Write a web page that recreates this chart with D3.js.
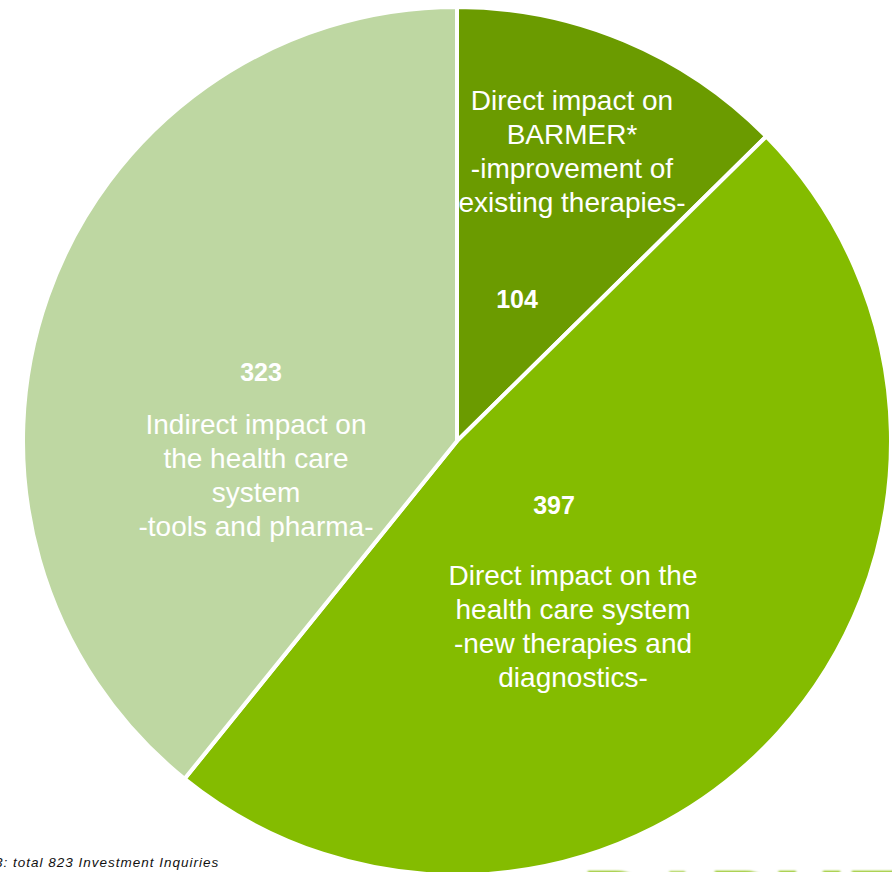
<!DOCTYPE html>
<html>
<head>
<meta charset="utf-8">
<script src="https://cdn.jsdelivr.net/npm/d3@7"></script>
<style>
  html, body { margin: 0; padding: 0; background: #ffffff; overflow: hidden; }
  svg { display: block; }
</style>
</head>
<body>
<svg id="chart" width="892" height="872"></svg>
<script>
// Investment inquiries by impact category
const categories = [
  "Direct impact on BARMER",
  "Direct impact on the health care system",
  "Indirect impact on the health care system"
];
const values = [104, 397, 323];
const colors = ["#6b9b00", "#84bc00", "#bed7a2"];

// Multi-line slice descriptions
const descriptions = [
  ["Direct impact on", "BARMER*", "-improvement of", "existing therapies-"],
  ["Direct impact on the", "health care system", "-new therapies and", "diagnostics-"],
  ["Indirect impact on", "the health care", "system", "-tools and pharma-"]
];

// Label anchors: value label centre and description block start
const valuePos = [[517, 299], [554, 505], [261, 372]];
const descPos = [[572, 100], [573, 575], [256, 424]];

const footnote = "3: total 823 Investment Inquiries";
const logoText = "BARMER";

const svg = d3.select("#chart");
const cx = 457, cy = 441, radius = 434;

const defs = svg.append("defs");
defs.append("filter").attr("id", "soft")
  .append("feGaussianBlur").attr("stdDeviation", 0.9);

const data = categories.map((c, i) => ({ name: c, value: values[i], color: colors[i], desc: descriptions[i], vp: valuePos[i], dp: descPos[i] }));

const pie = d3.pie().sort(null).value(d => d.value).startAngle(0).endAngle(2 * Math.PI);
const arc = d3.arc().innerRadius(0).outerRadius(radius);

const g = svg.append("g").attr("transform", `translate(${cx},${cy})`);
g.selectAll("path.slice")
  .data(pie(data))
  .join("path")
  .attr("class", "slice")
  .attr("d", arc)
  .attr("fill", d => d.data.color)
  .attr("stroke", "#ffffff")
  .attr("stroke-width", 4)
  .attr("stroke-linejoin", "miter");

// Value labels
svg.selectAll("text.value")
  .data(data)
  .join("text")
  .attr("class", "value")
  .attr("x", d => d.vp[0])
  .attr("y", d => d.vp[1])
  .attr("dy", "0.36em")
  .attr("text-anchor", "middle")
  .attr("font-family", "Liberation Sans, Arial, sans-serif")
  .attr("font-weight", "bold")
  .attr("font-size", 25)
  .attr("fill", "#ffffff")
  .text(d => d.value);

// Description labels
const lineH = 34;
data.forEach(d => {
  const t = svg.append("text")
    .attr("text-anchor", "middle")
    .attr("font-family", "Liberation Sans, Arial, sans-serif")
    .attr("font-size", 28)
    .attr("fill", "#ffffff");
  d.desc.forEach((line, j) => {
    t.append("tspan")
      .attr("x", d.dp[0])
      .attr("y", d.dp[1] + j * lineH)
      .attr("dy", "0.36em")
      .text(line);
  });
});

// Footnote
svg.append("text")
  .attr("x", -5)
  .attr("y", 867)
  .attr("font-family", "Liberation Sans, Arial, sans-serif")
  .attr("font-style", "italic")
  .attr("font-size", 13.5)
  .attr("letter-spacing", 1)
  .attr("fill", "#111111")
  .text(footnote);

// Brand wordmark along the bottom edge
svg.append("text")
  .attr("x", 582)
  .attr("y", 931)
  .attr("font-family", "Liberation Sans, Arial, sans-serif")
  .attr("font-weight", "bold")
  .attr("font-size", 88)
  .attr("fill", "#84bc00")
  .attr("filter", "url(#soft)")
  .text(logoText);
</script>
</body>
</html>
